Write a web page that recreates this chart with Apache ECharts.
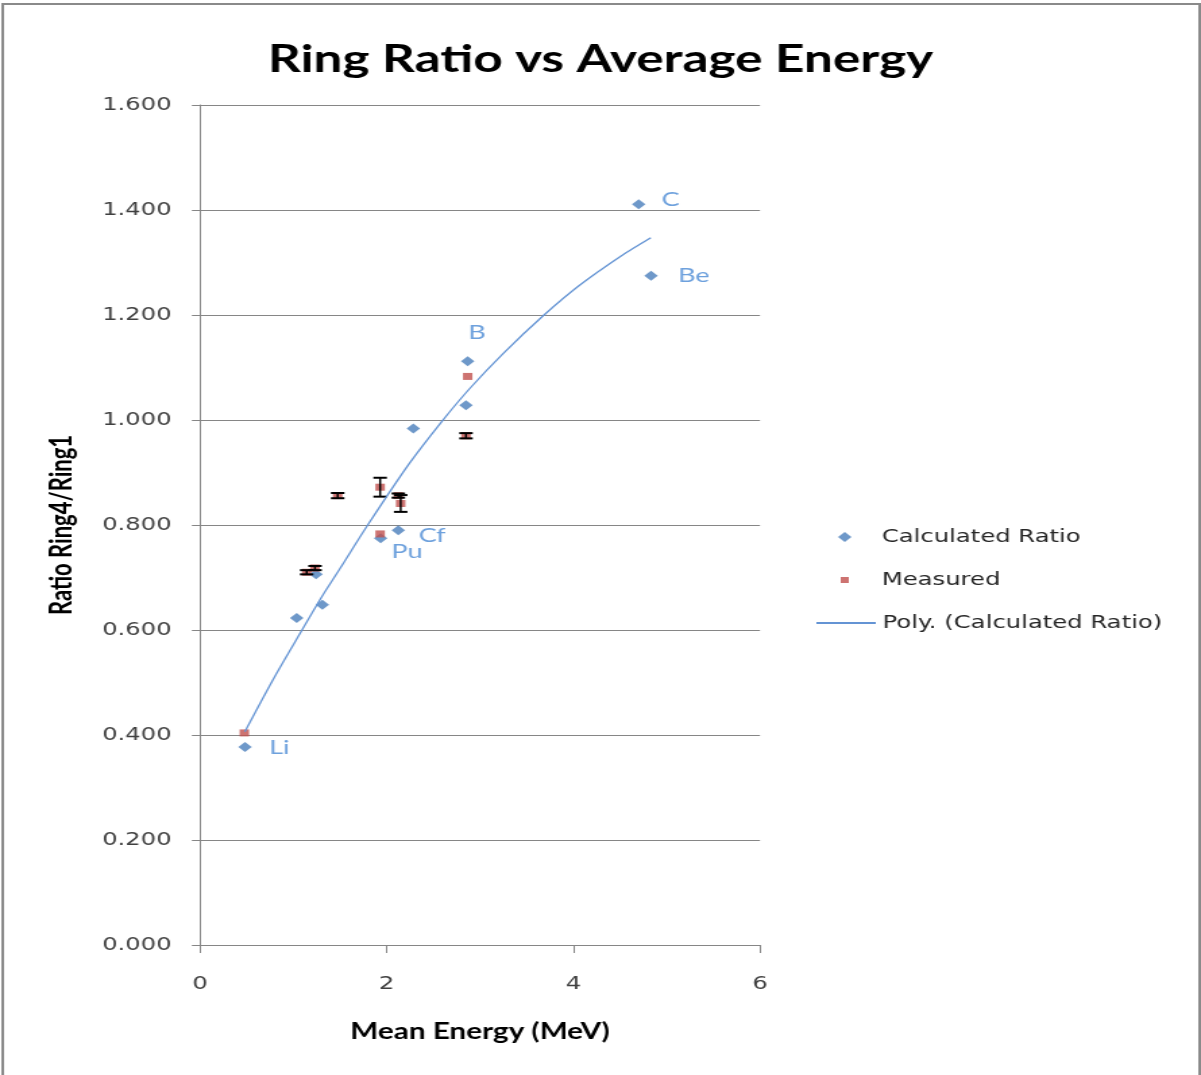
<!DOCTYPE html>
<html>
<head>
<meta charset="utf-8">
<script src="https://cdn.jsdelivr.net/npm/echarts@6/dist/echarts.min.js"></script>
<style>
html,body{margin:0;padding:0;background:#fff;overflow:hidden;}
#c{width:890px;height:1075px;transform:scaleX(1.34944);transform-origin:0 0;}
</style>
</head>
<body>
<div id="c"></div>
<script>
// ---- data ----
const calcNames = ['Li', '', '', '', 'Pu', 'Cf', '', '', 'B', 'C', 'Be'];
const calcX = [0.482, 1.036, 1.311, 1.243, 1.935, 2.125, 2.286, 2.850, 2.868, 4.700, 4.832];
const calcY = [0.377, 0.623, 0.648, 0.706, 0.775, 0.790, 0.984, 1.028, 1.112, 1.411, 1.275];

const measX = [0.475, 1.143, 1.232, 1.475, 1.930, 1.930, 2.125, 2.150, 2.850, 2.868];
const measY = [0.404, 0.710, 0.718, 0.856, 0.872, 0.783, 0.856, 0.841, 0.970, 1.083];
const measErr = [0, 0.004, 0.004, 0.005, 0.018, 0, 0.004, 0.016, 0.005, 0];

const polyX = [0.48, 0.80, 1.09, 1.30, 1.50, 1.79, 2.23, 2.59, 2.89, 3.25, 3.68, 4.07, 4.50, 4.83];
const polyY = [0.406, 0.511, 0.599, 0.662, 0.717, 0.798, 0.914, 0.997, 1.060, 1.127, 1.199, 1.257, 1.311, 1.347];

const xTicks = { min: 0, max: 6, interval: 2 };
const yTicks = { min: 0, max: 1.6, interval: 0.2 };

const seriesNames = ['Calculated Ratio', 'Measured', 'Poly. (Calculated Ratio)'];
const titleText = 'Ring Ratio vs Average Energy';
const xTitle = 'Mean Energy (MeV)';
const yTitle = 'Ratio Ring4/Ring1';

// ---- styling ----
const labelStyle = {
  Li: { position: 'right', distance: 13, offset: [0, 0] },
  C:  { position: 'right', distance: 12, offset: [0, -5] },
  Be: { position: 'right', distance: 15, offset: [0, 0] },
  B:  { position: 'top',   distance: 14, offset: [7, 0] },
  Cf: { position: 'right', distance: 10, offset: [0, 5] },
  Pu: { position: 'right', distance: 3,  offset: [0, 13] }
};
const labelColor = '#4a8ad4';
const blue = '#4a7ebb', red = '#c0504d', lineBlue = '#6494d4';
const axisGray = '#868686';

const calcData = calcX.map((x, i) => {
  const n = calcNames[i];
  const item = { value: [x, calcY[i]], name: n };
  if (n && labelStyle[n]) {
    item.label = Object.assign({
      show: true, formatter: n, color: labelColor,
      fontFamily: 'Lato', fontSize: 20
    }, labelStyle[n]);
  }
  return item;
});
const measData = measX.map((x, i) => [x, measY[i]]);
const errData = measX.map((x, i) => [x, measY[i], measErr[i]]);
const polyData = polyX.map((x, i) => [x, polyY[i]]);

const chart = echarts.init(document.getElementById('c'), null, { renderer: 'canvas' });

// legend text starts at x = 653.4 (unscaled); icons centred at x = 626
function legendSym(name, top, size) {
  const left = 626 - size / 2;
  const padL = 653.4 - (left + size + 5);
  return {
    data: [{ name: name }], left: left, top: top, padding: 0,
    itemWidth: size, itemHeight: size, itemGap: 0,
    selectedMode: false,
    textStyle: { fontFamily: 'DejaVu Sans', fontSize: 18, color: '#262626', padding: [0, 0, 0, padL] }
  };
}

chart.setOption({
  animation: false,
  backgroundColor: '#fff',
  title: {
    text: titleText, left: 'center', top: 36,
    textStyle: { fontFamily: 'Lato', fontWeight: 'bold', fontSize: 38, color: '#000' }
  },
  legend: [
    legendSym(seriesNames[0], 528, 10),
    legendSym(seriesNames[1], 571, 6),
    {
      data: [{ name: seriesNames[2] }], left: 604, top: 614, padding: 0,
      itemWidth: 44, itemHeight: 10, itemGap: 0, selectedMode: false,
      itemStyle: { opacity: 0 },
      textStyle: { fontFamily: 'DejaVu Sans', fontSize: 18, color: '#262626' }
    }
  ],
  grid: { left: 148.2, right: 326.8, top: 105, bottom: 130, containLabel: false },
  xAxis: {
    type: 'value', min: xTicks.min, max: xTicks.max, interval: xTicks.interval,
    name: xTitle, nameLocation: 'middle', nameGap: 76,
    nameTextStyle: { fontFamily: 'Lato', fontWeight: 'bold', fontSize: 22, color: '#000' },
    axisLine: { show: true, onZero: false, lineStyle: { color: axisGray, width: 1 } },
    axisTick: { show: true, length: 8, lineStyle: { color: axisGray } },
    axisLabel: { margin: 30, fontFamily: 'DejaVu Sans', fontSize: 18, color: '#404040' },
    splitLine: { show: false }
  },
  yAxis: {
    type: 'value', min: yTicks.min, max: yTicks.max, interval: yTicks.interval,
    name: yTitle, nameLocation: 'middle', nameGap: 91, nameRotate: 90,
    nameTextStyle: { fontFamily: 'Lato', fontWeight: 'bold', fontSize: 22, color: '#000' },
    axisLine: { show: true, lineStyle: { color: axisGray, width: 1 } },
    axisTick: { show: true, length: 6, lineStyle: { color: axisGray } },
    axisLabel: {
      margin: 21, fontFamily: 'DejaVu Sans', fontSize: 18, color: '#404040',
      formatter: v => v.toFixed(3)
    },
    splitLine: { show: true, lineStyle: { color: axisGray, width: 1 } }
  },
  graphic: [{
    type: 'rect', silent: true, z: 100,
    shape: { x: 2, y: 4, width: 887, height: 1090 },
    style: { fill: 'none', stroke: '#8a8a8a', lineWidth: 2 }
  }],
  series: [
    {
      name: seriesNames[0], type: 'scatter', data: calcData,
      symbol: 'diamond', symbolSize: 10,
      itemStyle: { color: blue }, z: 3
    },
    {
      name: seriesNames[1], type: 'scatter', data: measData,
      symbol: 'rect', symbolSize: 7,
      itemStyle: { color: red }, z: 4
    },
    {
      name: 'errors', type: 'custom', data: errData, z: 5,
      encode: { x: 0, y: 1 },
      renderItem: function (params, api) {
        const x = api.value(0), y = api.value(1), e = api.value(2);
        if (!e) return null;
        const t = api.coord([x, y + e]);
        const b = api.coord([x, y - e]);
        const hw = 5;
        const st = { stroke: '#000', lineWidth: 2 };
        return {
          type: 'group', children: [
            { type: 'line', shape: { x1: t[0], y1: t[1], x2: b[0], y2: b[1] }, style: { stroke: '#000', lineWidth: 1.5 } },
            { type: 'line', shape: { x1: t[0] - hw, y1: t[1], x2: t[0] + hw, y2: t[1] }, style: st },
            { type: 'line', shape: { x1: b[0] - hw, y1: b[1], x2: b[0] + hw, y2: b[1] }, style: st }
          ]
        };
      }
    },
    {
      name: seriesNames[2], type: 'line', data: polyData,
      showSymbol: false, symbol: 'none', smooth: 0.3,
      lineStyle: { color: lineBlue, width: 1.3 },
      itemStyle: { color: lineBlue }, z: 6
    }
  ]
});
</script>
</body>
</html>
